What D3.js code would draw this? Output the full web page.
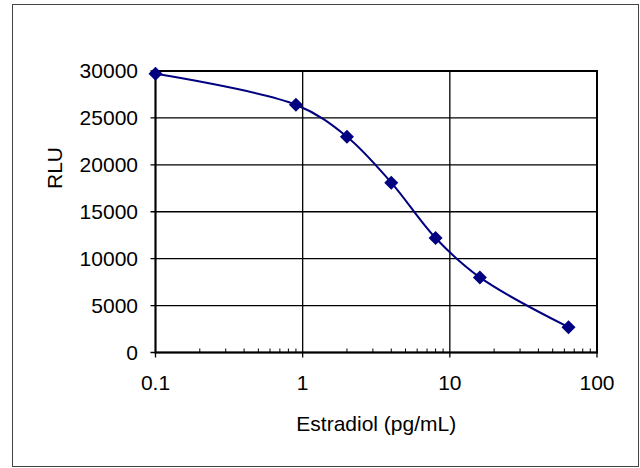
<!DOCTYPE html>
<html>
<head>
<meta charset="utf-8">
<script src="https://cdn.jsdelivr.net/npm/d3@7"></script>
<style>
  body { margin: 0; background: #fff; }
  text { font-family: "Liberation Sans", Arial, sans-serif; fill: #000; }
</style>
</head>
<body>
<svg id="chart"></svg>
<script>
// values
const estradiol = [0.1, 0.9, 2, 4, 8, 16, 64];
const rlu = [29700, 26400, 23000, 18100, 12200, 8000, 2700];
const yTicks = [0, 5000, 10000, 15000, 20000, 25000, 30000];
const xTicks = [0.1, 1, 10, 100];
const xTickLabels = ["0.1", "1", "10", "100"];

const width = 640, height = 468;
const svg = d3.select("#chart")
    .attr("width", width)
    .attr("height", height);

// outer frame
svg.append("rect")
    .attr("x", 12.5).attr("y", 4.5)
    .attr("width", 626).attr("height", 462)
    .attr("fill", "#fff")
    .attr("stroke", "#444")
    .attr("stroke-width", 1);

const plot = {left: 155.5, right: 597, top: 71, bottom: 352.5};

const x = d3.scaleLog()
    .domain([0.1, 100])
    .range([plot.left, plot.right]);

const y = d3.scaleLinear()
    .domain([0, 30000])
    .range([plot.bottom, plot.top]);

// horizontal gridlines
svg.append("g")
    .selectAll("line")
    .data(yTicks)
    .join("line")
    .attr("x1", plot.left - 5)
    .attr("x2", plot.right)
    .attr("y1", d => y(d))
    .attr("y2", d => y(d))
    .attr("stroke", "#000")
    .attr("stroke-width", 1.3);

// vertical gridlines at decades
svg.append("g")
    .selectAll("line")
    .data(xTicks)
    .join("line")
    .attr("x1", d => x(d))
    .attr("x2", d => x(d))
    .attr("y1", plot.top)
    .attr("y2", plot.bottom + 5)
    .attr("stroke", "#000")
    .attr("stroke-width", 1.3);

// minor ticks along the bottom axis, pointing inward
const minor = [];
[0.1, 1, 10].forEach(dec => {
    for (let k = 2; k <= 9; k++) minor.push(dec * k);
});
svg.append("g")
    .selectAll("line")
    .data(minor)
    .join("line")
    .attr("x1", d => x(d))
    .attr("x2", d => x(d))
    .attr("y1", plot.bottom)
    .attr("y2", plot.bottom - 4)
    .attr("stroke", "#000")
    .attr("stroke-width", 1);

// plot border
svg.append("rect")
    .attr("x", plot.left)
    .attr("y", plot.top)
    .attr("width", plot.right - plot.left)
    .attr("height", plot.bottom - plot.top)
    .attr("fill", "none")
    .attr("stroke", "#000")
    .attr("stroke-width", 2);

// y tick labels
svg.append("g")
    .selectAll("text")
    .data(yTicks)
    .join("text")
    .attr("x", 138)
    .attr("y", d => y(d))
    .attr("dy", "0.35em")
    .attr("text-anchor", "end")
    .style("font-size", "21px")
    .text(d => d);

// x tick labels
svg.append("g")
    .selectAll("text")
    .data(xTicks)
    .join("text")
    .attr("x", d => x(d))
    .attr("y", 383)
    .attr("dy", "0.35em")
    .attr("text-anchor", "middle")
    .style("font-size", "21px")
    .text((d, i) => xTickLabels[i]);

// axis titles
svg.append("text")
    .attr("x", (plot.left + plot.right) / 2)
    .attr("y", 424)
    .attr("dy", "0.35em")
    .attr("text-anchor", "middle")
    .style("font-size", "21px")
    .text("Estradiol (pg/mL)");

svg.append("text")
    .attr("transform", "translate(55,168) rotate(-90)")
    .attr("dy", "0.35em")
    .attr("text-anchor", "middle")
    .style("font-size", "21px")
    .text("RLU");

// smoothed curve
const pts = estradiol.map((d, i) => [x(d), y(rlu[i])]);
svg.append("path")
    .datum(pts)
    .attr("fill", "none")
    .attr("stroke", "#000080")
    .attr("stroke-width", 2)
    .attr("d", d3.line().curve(d3.curveCatmullRom.alpha(0.5)));

// diamond markers
svg.append("g")
    .selectAll("path")
    .data(pts)
    .join("path")
    .attr("transform", d => `translate(${d[0]},${d[1]})`)
    .attr("d", "M0,-7L7,0L0,7L-7,0Z")
    .attr("fill", "#000080");
</script>
</body>
</html>
